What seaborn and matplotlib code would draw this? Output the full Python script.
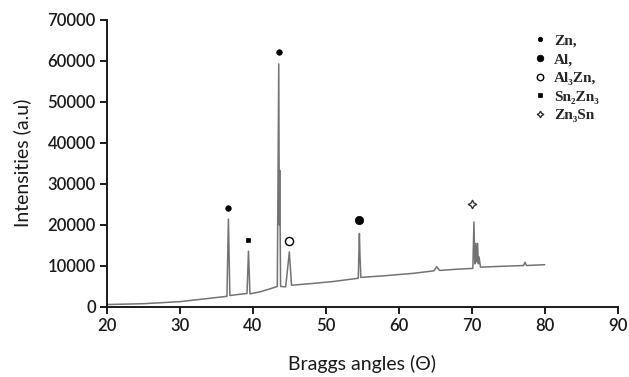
import numpy as np
import pandas as pd
import matplotlib
matplotlib.use("Agg")
import matplotlib.pyplot as plt
from matplotlib.lines import Line2D
import seaborn as sns

# XRD pattern (2-theta, intensity)
two_theta = [20, 25, 30, 33, 36.45, 36.65, 36.85, 39.2, 39.4, 39.6, 41, 42.5, 43.35,
             43.55, 43.62, 43.68, 43.8, 44.5, 45.0, 45.3, 48, 51, 54.45, 54.6, 54.68,
             54.8, 58, 62, 64.8, 65.2, 65.6, 68, 70.15, 70.3, 70.42, 70.55, 70.65, 70.8,
             70.9, 71.0, 71.2, 74, 77.1, 77.3, 77.5, 80]
intensity = [600, 800, 1300, 1900, 2600, 21400, 2800, 3300, 13600, 3200, 3700, 4500, 5000,
             59200, 20000, 33300, 5000, 4900, 13400, 5300, 5700, 6200, 7000, 17900, 12600,
             7200, 7600, 8200, 8800, 9800, 8900, 9200, 9400, 20700, 10500, 15500, 11000, 15500,
             10500, 12200, 9700, 9900, 10100, 10900, 10100, 10300]

# Phase markers above the peaks
phase_names = ["Zn", "Zn", "Sn2Zn3", "Al3Zn", "Al", "Zn3Sn"]
phase_x = [36.65, 43.55, 39.4, 45.0, 54.6, 70.1]
phase_y = [24100, 62000, 16300, 16000, 21200, 25000]

legend_labels = ["Zn,", "Al,", "Al₃Zn,", "Sn₂Zn₃", "Zn₃Sn"]
legend_keys = ["Zn", "Al", "Al3Zn", "Sn2Zn3", "Zn3Sn"]

x_ticks = [20, 30, 40, 50, 60, 70, 80, 90]
y_ticks = [0, 10000, 20000, 30000, 40000, 50000, 60000, 70000]

sns.set_theme(style="white")
plt.rcParams['font.family'] = ['Lato', 'DejaVu Sans']

styles = {
    "Zn": dict(marker="o", s=16, facecolor="black", edgecolor="black", linewidth=0.5),
    "Al": dict(marker="o", s=36, facecolor="black", edgecolor="black", linewidth=0.5),
    "Al3Zn": dict(marker="o", s=34, facecolor="white", edgecolor="black", linewidth=1.0),
    "Sn2Zn3": dict(marker="s", s=10, facecolor="black", edgecolor="black", linewidth=0.5),
    "Zn3Sn": dict(marker=(4, 1, 0), s=36, facecolor="white", edgecolor="#333333", linewidth=1.0),
}

fig = plt.figure(figsize=(6.29, 3.77), dpi=100)
ax = fig.add_axes([0.170, 0.1857, 0.812, 0.7625])

df = pd.DataFrame({"x": two_theta, "y": intensity})
sns.lineplot(data=df, x="x", y="y", sort=False, estimator=None, color="#737373",
             linewidth=1.1, ax=ax)

mk = pd.DataFrame({"phase": phase_names, "x": phase_x, "y": phase_y})
for name, sub in mk.groupby("phase"):
    st = styles[name]
    sns.scatterplot(data=sub, x="x", y="y", marker=st["marker"], s=st["s"],
                    color=st["facecolor"], edgecolor=st["edgecolor"],
                    linewidth=st["linewidth"], ax=ax, zorder=5)

ax.set_xlim(20, 90)
ax.set_ylim(0, 70000)
ax.set_xticks(x_ticks)
ax.set_yticks(y_ticks)
ax.set_xticklabels([str(t) for t in x_ticks])
ax.set_yticklabels([str(t) for t in y_ticks])
for s in ["top", "right"]:
    ax.spines[s].set_visible(False)
for s in ["left", "bottom"]:
    ax.spines[s].set_color("#1a1a1a")
    ax.spines[s].set_linewidth(1.4)
ax.tick_params(axis="both", which="major", direction="out", length=5, width=1.4,
               color="#1a1a1a", labelsize=12, labelcolor="#1a1a1a", pad=3,
               bottom=True, left=True)
for lab in ax.get_xticklabels() + ax.get_yticklabels():
    lab.set_fontweight("semibold")
ax.set_xlabel("Braggs angles (Θ)", fontsize=14, color="#1a1a1a", labelpad=15)
ax.set_ylabel("Intensities (a.u)", fontsize=14, color="#1a1a1a", labelpad=12)
ax.grid(False)

handles = []
for key in legend_keys:
    st = styles[key]
    handles.append(Line2D([], [], linestyle="none", marker=st["marker"],
                          markersize=np.sqrt(st["s"]) * 0.8,
                          markerfacecolor=st["facecolor"], markeredgecolor=st["edgecolor"],
                          markeredgewidth=st["linewidth"]))
leg = ax.legend(handles, legend_labels, loc="upper left", bbox_to_anchor=(0.81, 0.997),
                frameon=False, handlelength=0.8, handletextpad=0.5, labelspacing=0.32,
                prop={"family": "Liberation Serif", "size": 11, "weight": "bold"})

fig.savefig("out.png", dpi=100)
